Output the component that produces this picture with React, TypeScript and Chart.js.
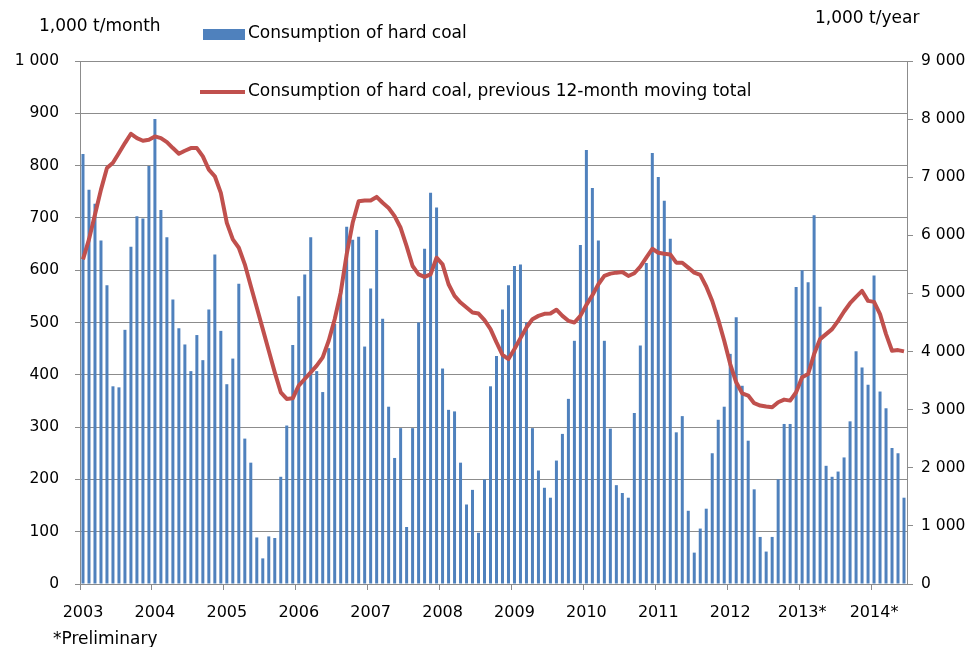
import React, { useEffect, useRef } from "react";
import { Chart, registerables } from "chart.js";

Chart.register(...registerables);

// Year tick labels (one per January)
const yearLabels = ["2003", "2004", "2005", "2006", "2007", "2008", "2009", "2010", "2011", "2012", "2013*", "2014*"];

// Consumption of hard coal, 1,000 t/month
const cons2003 = [822, 754, 727, 657, 571, 378, 376, 486, 645, 703, 699, 799];
const cons2004 = [889, 715, 663, 544, 489, 458, 407, 476, 428, 525, 630, 484];
const cons2005 = [382, 431, 574, 278, 232, 89, 49, 91, 88, 205, 303, 457];
const cons2006 = [550, 592, 663, 407, 367, 451, 497, 563, 683, 658, 664, 454];
const cons2007 = [565, 677, 507, 339, 241, 298, 109, 298, 500, 641, 748, 720];
const cons2008 = [412, 333, 330, 232, 152, 180, 98, 200, 378, 436, 525, 571];
const cons2009 = [608, 611, 500, 298, 217, 184, 165, 236, 287, 354, 465, 648];
const cons2010 = [830, 757, 657, 465, 297, 189, 174, 165, 327, 456, 614, 824];
const cons2011 = [778, 733, 660, 290, 321, 140, 60, 106, 144, 250, 314, 339];
const cons2012 = [440, 510, 379, 274, 181, 90, 62, 90, 200, 306, 306, 568];
const cons2013 = [600, 577, 705, 530, 226, 205, 215, 242, 311, 445, 414, 381];
const cons2014 = [590, 368, 336, 260, 250, 165];

// Previous 12-month moving total, 1,000 t/year
const total2003 = [5586, 5930, 6358, 6787, 7159, 7250, 7416, 7588, 7748, 7674, 7628, 7645];
const total2004 = [7702, 7674, 7605, 7502, 7405, 7456, 7502, 7502, 7359, 7130, 7016, 6730];
const total2005 = [6215, 5930, 5787, 5501, 5129, 4757, 4386, 4014, 3642, 3299, 3185, 3196];
const total2006 = [3414, 3528, 3642, 3757, 3900, 4186, 4557, 5015, 5672, 6215, 6587, 6599];
const total2007 = [6599, 6661, 6560, 6470, 6330, 6130, 5815, 5472, 5329, 5284, 5329, 5615];
const total2008 = [5501, 5158, 4957, 4843, 4757, 4671, 4654, 4540, 4386, 4157, 3945, 3871];
const total2009 = [4043, 4231, 4414, 4557, 4614, 4650, 4654, 4720, 4614, 4529, 4500, 4614];
const total2010 = [4803, 4969, 5158, 5301, 5341, 5358, 5369, 5301, 5347, 5461, 5615, 5769];
const total2011 = [5701, 5684, 5672, 5529, 5529, 5444, 5358, 5320, 5120, 4870, 4550, 4186];
const total2012 = [3785, 3471, 3282, 3242, 3111, 3071, 3053, 3042, 3128, 3173, 3156, 3300];
const total2013 = [3557, 3614, 3957, 4214, 4300, 4386, 4529, 4689, 4832, 4940, 5043, 4872];
const total2014 = [4855, 4643, 4300, 4014, 4025, 4003];

const consumption = [
  ...cons2003, ...cons2004, ...cons2005, ...cons2006, ...cons2007, ...cons2008,
  ...cons2009, ...cons2010, ...cons2011, ...cons2012, ...cons2013, ...cons2014,
];
const movingTotal = [
  ...total2003, ...total2004, ...total2005, ...total2006, ...total2007, ...total2008,
  ...total2009, ...total2010, ...total2011, ...total2012, ...total2013, ...total2014,
];
const monthLabels = consumption.map((_, i) => `${2003 + Math.floor(i / 12)}-${(i % 12) + 1}`);

const BAR_COLOR = "#4F81BD";
const LINE_COLOR = "#C0504D";
const GRID = "#8C8C8C";
const FONT = "DejaVu Sans";

const fmt = (v: number) => {
  const s = String(Math.round(v));
  return s.replace(/\B(?=(\d{3})+(?!\d))/g, " ");
};

const textPlugin = {
  id: "customText",
  afterDraw(chart: any) {
    const ctx = chart.ctx;
    const ds = chart.data.datasets;
    ctx.save();
    ctx.fillStyle = "#000";
    ctx.textBaseline = "middle";
    ctx.textAlign = "left";
    ctx.font = `17px "${FONT}"`;
    ctx.fillText("1,000 t/month", 39, 27);
    ctx.fillText("1,000 t/year", 815, 19);
    ctx.fillText("*Preliminary", 53, 640);
    // legend: bar
    const bar = ds.find((d: any) => d.type !== "line");
    const line = ds.find((d: any) => d.type === "line");
    ctx.fillStyle = bar.backgroundColor;
    ctx.fillRect(203, 29, 42, 11);
    ctx.fillStyle = "#000";
    ctx.fillText(bar.label, 248, 34);
    // legend: line
    ctx.strokeStyle = line.borderColor;
    ctx.lineWidth = 4;
    ctx.beginPath();
    ctx.moveTo(200, 92);
    ctx.lineTo(245, 92);
    ctx.stroke();
    ctx.fillText(line.label, 248, 92);
    ctx.restore();
  },
};

export default function App() {
  const ref = useRef<HTMLCanvasElement | null>(null);
  useEffect(() => {
    if (!ref.current) return;
    const chart = new Chart(ref.current, {
      type: "bar",
      data: {
        labels: monthLabels,
        datasets: [
          {
            type: "line",
            label: "Consumption of hard coal, previous 12-month moving total",
            data: movingTotal,
            borderColor: LINE_COLOR,
            backgroundColor: LINE_COLOR,
            borderWidth: 4,
            pointRadius: 0,
            tension: 0,
            borderJoinStyle: "round",
            yAxisID: "y2",
            order: 0,
          } as any,
          {
            type: "bar",
            label: "Consumption of hard coal",
            data: consumption,
            backgroundColor: BAR_COLOR,
            borderWidth: 0,
            barPercentage: 0.5,
            categoryPercentage: 1,
            yAxisID: "y",
            order: 1,
          } as any,
        ],
      },
      options: {
        responsive: false,
        animation: false,
        devicePixelRatio: 1,
        layout: { padding: { top: 61, left: 0, right: 0, bottom: 0 } },
        plugins: {
          legend: { display: false },
          tooltip: { enabled: false },
          title: { display: false },
        },
        scales: {
          x: {
            type: "category",
            offset: true,
            grid: {
              offset: true,
              drawOnChartArea: false,
              drawTicks: true,
              tickLength: 6,
              color: (c: any) => (c.index % 12 === 0 ? GRID : "rgba(0,0,0,0)"),
            },
            border: { display: true, color: GRID },
            ticks: {
              autoSkip: false,
              maxRotation: 0,
              minRotation: 0,
              padding: 13,
              color: "#000",
              font: { family: FONT, size: 16 },
              callback: (_v: any, i: number) => (i % 12 === 0 ? yearLabels[i / 12] : ""),
            },
            afterFit: (s: any) => {
              s.height = 63;
            },
          },
          y: {
            position: "left",
            min: 0,
            max: 1000,
            grid: { color: GRID, drawTicks: true, tickLength: 5 },
            border: { display: true, color: GRID },
            ticks: {
              stepSize: 100,
              padding: 16,
              color: "#000",
              font: { family: FONT, size: 15.5 },
              callback: (v: any) => fmt(v),
            },
            afterFit: (s: any) => {
              s.width = 80;
            },
          },
          y2: {
            position: "right",
            min: 0,
            max: 9000,
            grid: { drawOnChartArea: false, drawTicks: true, tickLength: 6, color: GRID },
            border: { display: true, color: GRID },
            ticks: {
              stepSize: 1000,
              padding: 8,
              color: "#000",
              font: { family: FONT, size: 15.5 },
              callback: (v: any) => fmt(v),
            },
            afterFit: (s: any) => {
              s.width = 67;
            },
          },
        },
      },
      plugins: [textPlugin],
    });
    return () => chart.destroy();
  }, []);
  return (
    <div style={{ position: "fixed", left: 0, top: 0, width: 974, height: 647, background: "#fff" }}>
      <canvas ref={ref} width={974} height={647} style={{ display: "block" }} />
    </div>
  );
}
